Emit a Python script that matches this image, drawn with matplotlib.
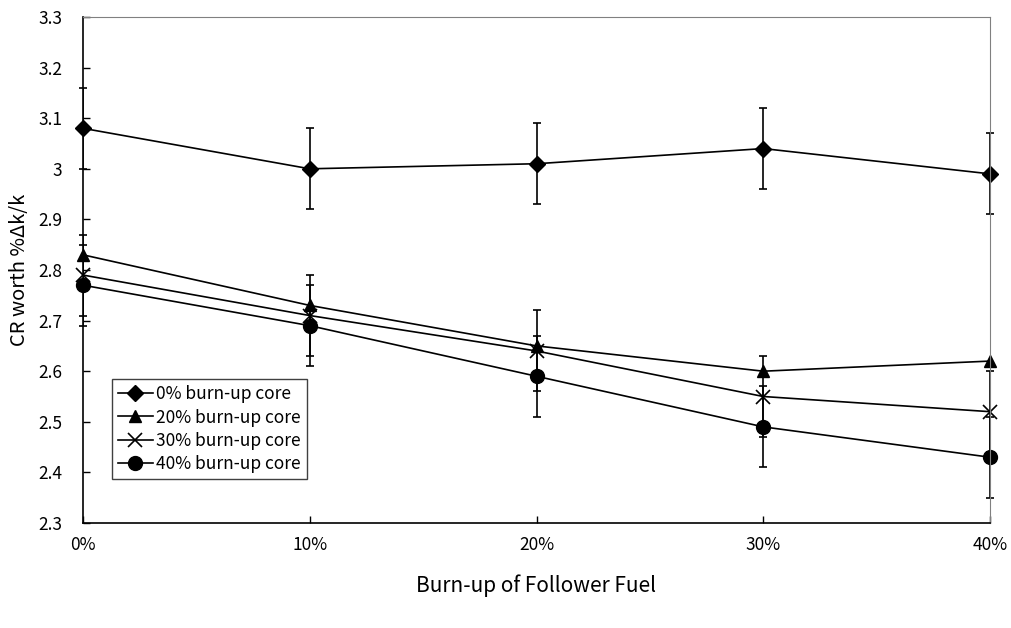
import numpy as np
import matplotlib
matplotlib.use("Agg")
from matplotlib import pyplot as plt

plt.rcParams['font.family'] = ['Noto Sans CJK JP', 'DejaVu Sans']

burnup = [0, 10, 20, 30, 40]
xlabels = ['0%', '10%', '20%', '30%', '40%']

core0 = [3.08, 3.00, 3.01, 3.04, 2.99]
core20 = [2.83, 2.73, 2.65, 2.60, 2.62]
core30 = [2.79, 2.71, 2.64, 2.55, 2.52]
core40 = [2.77, 2.69, 2.59, 2.49, 2.43]

err0 = [0.08, 0.08, 0.08, 0.08, 0.08]
err30 = [0.08, 0.08, 0.08, 0.08, 0.08]
err40 = [0.08, 0.08, 0.08, 0.08, 0.08]

fig = plt.figure(figsize=(10.11, 6.28), dpi=100)
ax = fig.add_axes([83 / 1011, 105 / 628, 907 / 1011, 506 / 628])

# error bars first so the markers sit on top
eb = dict(ecolor='black', elinewidth=1.2, capsize=3, capthick=1.2)
ax.errorbar(burnup, core30, yerr=err30, fmt='none', **eb)
ax.errorbar(burnup, core40, yerr=err40, fmt='none', **eb)
ax.errorbar(burnup, core0, yerr=err0, fmt='none', **eb)

ax.plot(burnup, core0, color='black', lw=1.2, marker='D', ms=8, label='0% burn-up core')
ax.plot(burnup, core20, color='black', lw=1.2, marker='^', ms=9, label='20% burn-up core')
ax.plot(burnup, core30, color='black', lw=1.2, marker='x', ms=10, mew=1.2, label='30% burn-up core')
ax.plot(burnup, core40, color='black', lw=1.2, marker='o', ms=10, label='40% burn-up core')

ax.set_xlim(0, 40)
ax.set_ylim(2.3, 3.3)
ax.set_xticks(burnup)
ax.set_xticklabels(xlabels)
yt = np.round(np.arange(2.3, 3.31, 0.1), 1)
ax.set_yticks(yt)
ax.set_yticklabels(['3' if abs(v - 3) < 1e-9 else f'{v:.1f}' for v in yt])
ax.tick_params(direction='in', length=5, width=1, labelsize=12.5, colors='black')
ax.tick_params(axis='x', pad=9)
ax.tick_params(axis='y', pad=15)

for s in ['left', 'bottom']:
    ax.spines[s].set_color('black')
    ax.spines[s].set_linewidth(1.2)
for s in ['top', 'right']:
    ax.spines[s].set_color('#808080')
    ax.spines[s].set_linewidth(0.8)

ax.set_xlabel('Burn-up of Follower Fuel', fontsize=15)
ax.xaxis.set_label_coords(0.5, -(574 - 523) / 506)
ax.set_ylabel('CR worth %Δk/k', fontsize=14.5)
ax.yaxis.set_label_coords(-(83 - 30) / 907, 0.5)

leg = ax.legend(loc='lower left', bbox_to_anchor=(29 / 907, 44 / 506), borderaxespad=0,
                fontsize=12.5, frameon=True, fancybox=False, framealpha=1,
                edgecolor='#404040', handlelength=2.0, borderpad=0.35,
                labelspacing=0.3, handletextpad=0.2)
leg.get_frame().set_linewidth(1.0)

for line in ax.get_lines():
    line.set_clip_on(False)

fig.savefig('out.png', dpi=100)
